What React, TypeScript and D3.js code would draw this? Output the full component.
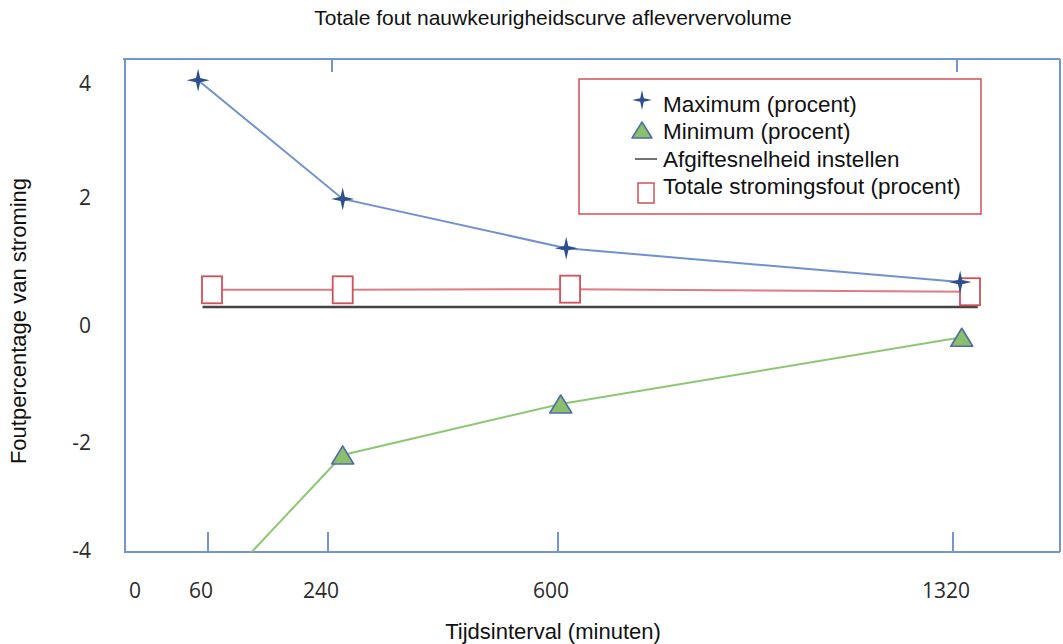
import React from "react";
import * as d3 from "d3";

// ---- data ----
const xTickValues = [60, 240, 600, 1320];
const xTickLabels = ["0", "60", "240", "600", "1320"];
const xLabelValues = [0, 60, 240, 600, 1320];
const topTickValues = [240, 1320];
const yTickValues = [4, 2, 0, -2, -4];

const maxX = [51, 263, 615, 1333];
const maxY = [4.05, 1.97, 1.2, 0.67];

const minX = [60, 263, 605, 1336];
const minY = [-4.9, -2.24, -1.35, -0.21];

const totalX = [66, 263, 622, 1351];
const totalY = [0.55, 0.55, 0.56, 0.52];

const setRateX = [55, 1365];
const setRateY = [0.28, 0.28];

const legendItems = [
  "Maximum (procent)",
  "Minimum (procent)",
  "Afgiftesnelheid instellen",
  "Totale stromingsfout (procent)",
];

// ---- layout ----
const W = 1063;
const H = 644;
const left = 125;
const right = 1060;
const top = 59;
const bottom = 552;

const x = d3
  .scaleLinear()
  .domain([0, 60, 240, 600, 1320])
  .range([142, 208, 328, 558, 953]);
const y = d3
  .scaleLinear()
  .domain([-4, -2, 0, 2, 4])
  .range([550, 442, 325, 197, 83]);

const axisColor = "#7396d2";
const maxLine = "#7091d0";
const starColor = "#2d4f8e";
const minLine = "#8cc872";
const triFill = "#8bbf6c";
const triStroke = "#4d6ea8";
const red = "#d2505a";

function starPath(cx: number, cy: number, R: number, r: number) {
  const pts: [number, number][] = [];
  for (let i = 0; i < 8; i++) {
    const a = (Math.PI / 4) * i - Math.PI / 2;
    const rad = i % 2 === 0 ? R : r;
    pts.push([cx + rad * Math.cos(a), cy + rad * Math.sin(a)]);
  }
  return "M" + pts.map((p) => p.join(",")).join("L") + "Z";
}

function triPath(cx: number, cy: number, w: number, h: number) {
  return `M${cx},${cy - h / 2}L${cx + w / 2},${cy + h / 2}L${cx - w / 2},${cy + h / 2}Z`;
}

export default function App() {
  const line = d3
    .line<[number, number]>()
    .x((d) => x(d[0]))
    .y((d) => y(d[1]));
  const maxPts = maxX.map((v, i) => [v, maxY[i]] as [number, number]);
  const minPts = minX.map((v, i) => [v, minY[i]] as [number, number]);
  const totPts = totalX.map((v, i) => [v, totalY[i]] as [number, number]);
  const setPts = setRateX.map((v, i) => [v, setRateY[i]] as [number, number]);

  const font = "'Liberation Sans', Arial, sans-serif";
  const tickFont = "'Open Sans', 'Noto Sans', sans-serif";

  const lx = 642;
  const rowY = [104, 131, 159, 186];

  return (
    <svg
      width={W}
      height={H}
      style={{ position: "absolute", left: 0, top: 0, background: "#fff" }}
    >
      <defs>
        <clipPath id="plotclip">
          <rect x={left} y={top} width={right - left} height={bottom - top} />
        </clipPath>
      </defs>
      {/* title */}
      <text x={553} y={25} textAnchor="middle" fontFamily={font} fontSize={21} fill="#111">
        Totale fout nauwkeurigheidscurve afleververvolume
      </text>
      {/* axes frame */}
      <g stroke={axisColor} strokeWidth={2} fill="none">
        <line x1={left - 2} y1={top} x2={right} y2={top} />
        <line x1={left} y1={top} x2={left} y2={bottom} />
        <line x1={left - 1} y1={bottom} x2={right} y2={bottom} />
        <line x1={right} y1={top} x2={right} y2={bottom} />
        {xTickValues.map((v) => (
          <line key={"b" + v} x1={x(v)} y1={bottom} x2={x(v)} y2={bottom - 20} />
        ))}
        {topTickValues.map((v) => (
          <line key={"t" + v} x1={x(v) + 4} y1={top} x2={x(v) + 4} y2={top + 13} />
        ))}
      </g>
      {/* tick labels */}
      {xLabelValues.map((v, i) => (
        <text
          key={"xl" + v}
          x={x(v) - 7}
          y={598}
          textAnchor="middle"
          fontFamily={tickFont}
          fontSize={21}
          fill="#2b2b2b"
        >
          {xTickLabels[i]}
        </text>
      ))}
      {yTickValues.map((v) => (
        <text
          key={"yl" + v}
          x={91}
          y={y(v) + 8}
          textAnchor="end"
          fontFamily={tickFont}
          fontSize={21}
          fill="#2b2b2b"
        >
          {v < 0 ? "-" + Math.abs(v) : String(v)}
        </text>
      ))}
      {/* axis titles */}
      <text x={553} y={639} textAnchor="middle" fontFamily={font} fontSize={22} fill="#111">
        Tijdsinterval (minuten)
      </text>
      <text
        transform="translate(26,321) rotate(-90)"
        textAnchor="middle"
        fontFamily={font}
        fontSize={22}
        fill="#111"
      >
        Foutpercentage van stroming
      </text>

      <g clipPath="url(#plotclip)">
        {/* set rate line */}
        <path d={line(setPts) || ""} stroke="#444" strokeWidth={2.5} fill="none" />
        {/* total flow error */}
        <path d={line(totPts) || ""} stroke={red} strokeOpacity={0.75} strokeWidth={2} fill="none" />
        {totPts.map((p, i) => (
          <rect
            key={"sq" + i}
            x={x(p[0]) - 10}
            y={y(p[1]) - 13.5}
            width={20}
            height={27}
            fill="#fff"
            stroke={red}
            strokeWidth={1.8}
          />
        ))}
        {/* maximum */}
        <path d={line(maxPts) || ""} stroke={maxLine} strokeWidth={2} fill="none" />
        {maxPts.map((p, i) => (
          <path key={"st" + i} d={starPath(x(p[0]), y(p[1]), 11.5, 3)} fill={starColor} />
        ))}
        {/* minimum */}
        <path d={line(minPts) || ""} stroke={minLine} strokeWidth={2} fill="none" />
        {minPts.map((p, i) => (
          <path
            key={"tr" + i}
            d={triPath(x(p[0]), y(p[1]), 22, 18)}
            fill={triFill}
            stroke={triStroke}
            strokeWidth={1.6}
            strokeLinejoin="round"
          />
        ))}
      </g>

      {/* legend */}
      <rect x={579} y={79} width={402} height={135} fill="#fff" stroke={red} strokeWidth={1.5} />
      <path d={starPath(lx, rowY[0] - 4, 10, 2.5)} fill={starColor} />
      <path
        d={triPath(lx, rowY[1] - 1, 20, 16)}
        fill={triFill}
        stroke={triStroke}
        strokeWidth={1.5}
        strokeLinejoin="round"
      />
      <line x1={635} y1={rowY[2]} x2={657} y2={rowY[2]} stroke="#444" strokeWidth={1.5} />
      <rect x={638} y={183} width={16} height={20} fill="#fff" stroke={red} strokeWidth={1.5} />
      {legendItems.map((t, i) => (
        <text
          key={t}
          x={663}
          y={rowY[i] + 8}
          fontFamily={font}
          fontSize={22.5}
          fill="#111"
        >
          {t}
        </text>
      ))}
    </svg>
  );
}
